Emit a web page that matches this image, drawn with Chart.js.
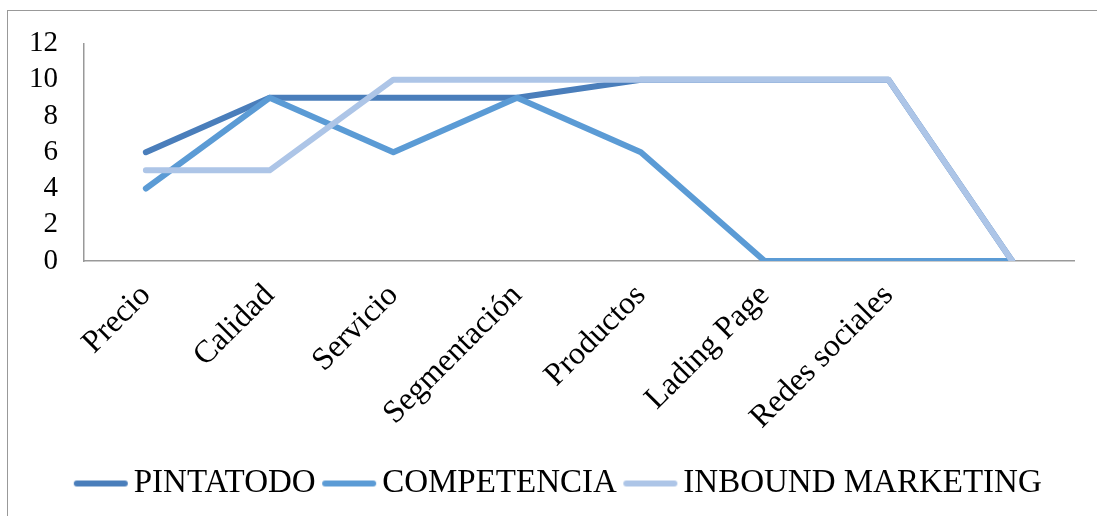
<!DOCTYPE html>
<html>
<head>
<meta charset="utf-8">
<script src="https://cdn.jsdelivr.net/npm/chart.js@4"></script>
<style>
    body { margin: 0; background: #fff; }
    #wrap { position: relative; width: 1097px; height: 516px; }
    #frame { position: absolute; left: 7px; top: 10px; right: 0; bottom: 0; border-top: 1px solid #999; border-left: 1px solid #999; }
    #chart { position: absolute; left: 0; top: 0; }
</style>
</head>
<body>
<div id="wrap">
    <div id="frame"></div>
    <canvas id="chart" width="1097" height="516"></canvas>
</div>
<script>
const categorias = ['Precio', 'Calidad', 'Servicio', 'Segmentación', 'Productos', 'Lading Page', 'Redes sociales', ''];
const pintatodo = [6, 9, 9, 9, 10, 10, 10, 0];
const competencia = [4, 9, 6, 9, 6, 0, 0, 0];
const inbound = [5, 5, 10, 10, 10, 10, 10, 0];
const yTicks = [0, 2, 4, 6, 8, 10, 12];

const fuente = '"Liberation Serif", "Times New Roman", serif';

// muestra de línea para la leyenda (más ancha que la caja, texto más pegado)
function muestra(color) {
    const c = document.createElement('canvas');
    c.width = 56;
    c.height = 8;
    const g = c.getContext('2d');
    g.strokeStyle = color;
    g.lineWidth = 6;
    g.lineCap = 'round';
    g.beginPath();
    g.moveTo(4, 4);
    g.lineTo(52, 4);
    g.stroke();
    return c;
}

// corre la leyenda un poco a la derecha
const moverLeyenda = {
    id: 'moverLeyenda',
    afterLayout(chart) {
        chart.legend.left += 16;
        chart.legend.right += 16;
    }
};

const ctx = document.getElementById('chart').getContext('2d');
new Chart(ctx, {
    type: 'line',
    data: {
        labels: categorias,
        datasets: [{
            label: 'PINTATODO',
            data: pintatodo,
            borderColor: '#4a7ebb',
            backgroundColor: '#4a7ebb',
            pointStyle: muestra('#4a7ebb'),
            order: 2
        }, {
            label: 'COMPETENCIA',
            data: competencia,
            borderColor: '#5b9bd5',
            backgroundColor: '#5b9bd5',
            pointStyle: muestra('#5b9bd5'),
            order: 1
        }, {
            label: 'INBOUND MARKETING',
            data: inbound,
            borderColor: '#adc5e7',
            backgroundColor: '#adc5e7',
            pointStyle: muestra('#adc5e7'),
            order: 0
        }]
    },
    options: {
        responsive: false,
        animation: false,
        layout: {
            padding: { left: 20, right: 23, top: 28, bottom: 6 }
        },
        elements: {
            line: {
                borderWidth: 6,
                borderCapStyle: 'round',
                borderJoinStyle: 'round',
                tension: 0
            },
            point: { radius: 0 }
        },
        scales: {
            x: {
                offset: true,
                grid: { display: false, drawTicks: false },
                border: { display: true, color: '#999', width: 1.5 },
                ticks: {
                    color: '#000',
                    minRotation: 45,
                    maxRotation: 45,
                    autoSkip: false,
                    padding: 16,
                    font: { family: fuente, size: 32 }
                },
                afterFit: function (scale) {
                    scale.height = 189;
                }
            },
            y: {
                min: 0,
                max: 12,
                afterBuildTicks: function (scale) {
                    scale.ticks = yTicks.map(v => ({ value: v }));
                },
                grid: { display: false, drawTicks: false },
                border: { display: true, color: '#999', width: 1.5 },
                ticks: {
                    color: '#000',
                    autoSkip: false,
                    padding: 26,
                    font: { family: fuente, size: 29 }
                },
                afterFit: function (scale) {
                    scale.width = 64;
                }
            }
        },
        plugins: {
            legend: {
                position: 'bottom',
                labels: {
                    color: '#000',
                    usePointStyle: true,
                    pointStyleWidth: 33,
                    boxHeight: 8,
                    padding: 17,
                    font: { family: fuente, size: 33 },
                    sort: (a, b) => a.datasetIndex - b.datasetIndex
                }
            },
            tooltip: { enabled: false }
        }
    },
    plugins: [moverLeyenda]
});
</script>
</body>
</html>
